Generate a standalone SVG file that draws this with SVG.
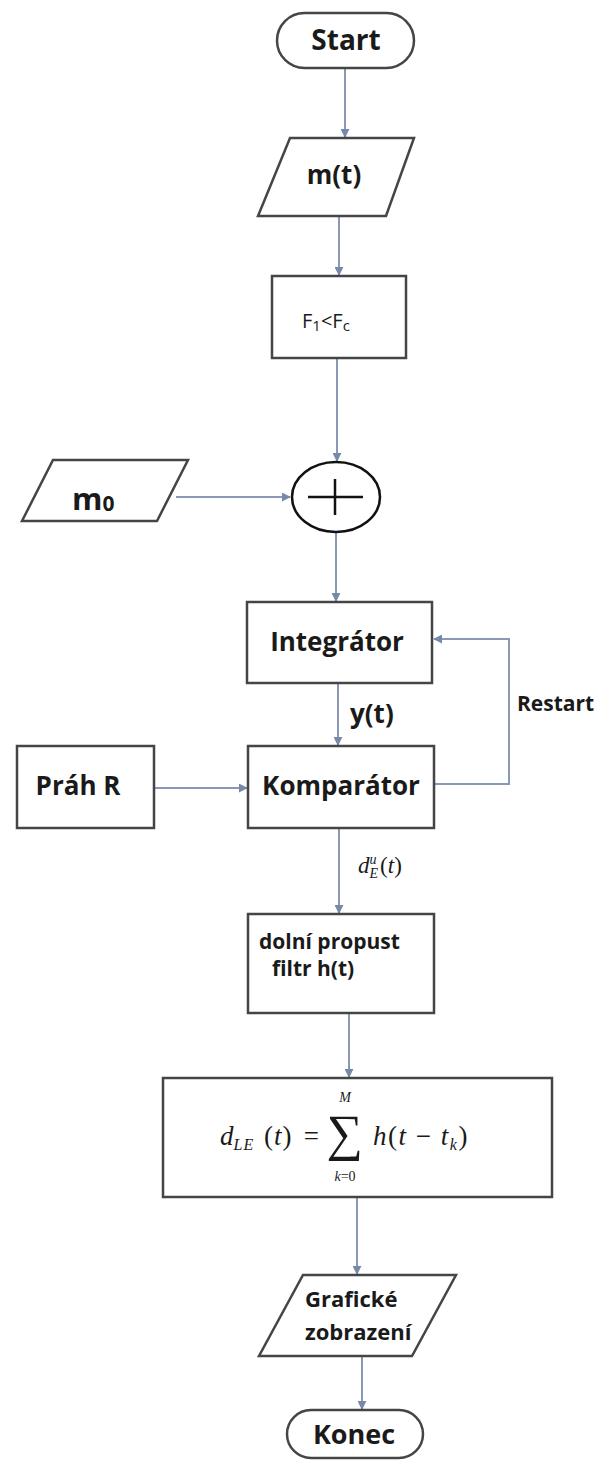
<svg xmlns="http://www.w3.org/2000/svg" width="603" height="1461" viewBox="0 0 603 1461">
<defs>
<marker id="ah" viewBox="0 0 10 10" refX="9" refY="5" markerWidth="4.5" markerHeight="4.5" orient="auto" markerUnits="strokeWidth">
<path d="M0,0 L10,5 L0,10 z" fill="#7689a8"/>
</marker>
<style>
.box{fill:#fff;stroke:#454545;stroke-width:2.5}
.ell{fill:#fff;stroke:#111;stroke-width:2.5}
.con{fill:none;stroke:#8898b5;stroke-width:2;marker-end:url(#ah)}
.lbl{font-family:"Open Sans","Liberation Sans",sans-serif;font-weight:bold;fill:#1a1a1a}
.reg{font-family:"Open Sans","Liberation Sans",sans-serif;fill:#1a1a1a}
.math{font-family:"Liberation Serif","DejaVu Serif",serif;font-style:italic;fill:#1a1a1a}
</style>
</defs>
<rect width="603" height="1461" fill="#fff"/>

<g id="connectors">
<path class="con" d="M345,68 V137"/>
<path class="con" d="M339,216 V275"/>
<path class="con" d="M337,358 V461"/>
<path class="con" d="M176,497 H290"/>
<path class="con" d="M336,532 V601"/>
<path class="con" d="M338,683 V745"/>
<path class="con" d="M155,788 H247"/>
<path class="con" d="M435,784 H509 V639 H434"/>
<path class="con" d="M339,828 V913"/>
<path class="con" d="M349,1013 V1077"/>
<path class="con" d="M357,1197 V1274"/>
<path class="con" d="M362,1356 V1409"/>
</g>

<g id="start">
<rect class="box" x="277" y="13" width="137" height="55" rx="27.5"/>
<text class="lbl" x="346" y="50" font-size="28" text-anchor="middle">Start</text>
</g>

<g id="mt">
<polygon class="box" points="290,138 414,138 386,216 258,216"/>
<text class="lbl" x="334" y="184" font-size="26" text-anchor="middle">m(t)</text>
</g>

<g id="filter1">
<rect class="box" x="272" y="276" width="134" height="82"/>
<text class="reg" x="302" y="328" font-size="20">F<tspan font-size="15" dy="3">1</tspan><tspan dy="-3">&lt;F</tspan><tspan font-size="15" dy="3">c</tspan></text>
</g>

<g id="m0">
<polygon class="box" points="53,460 188,460 157,521 22,521"/>
<text class="lbl" x="72" y="510" font-size="31">m<tspan font-size="21" dy="1">0</tspan></text>
</g>

<g id="sum">
<ellipse class="ell" cx="336" cy="497" rx="44" ry="35"/>
<path d="M308,497 H363 M335,479 V515" stroke="#111" stroke-width="2.5" fill="none"/>
</g>

<g id="integrator">
<rect class="box" x="247" y="602" width="185" height="81"/>
<text class="lbl" x="337" y="651" font-size="26" text-anchor="middle">Integrátor</text>
</g>

<g id="labels">
<text class="lbl" x="350" y="723" font-size="26">y(t)</text>
<text class="lbl" x="517" y="711" font-size="21">Restart</text>
<text class="math" x="358" y="873" font-size="23">d<tspan font-size="14" dy="-9">u</tspan><tspan font-size="14" dx="-7" dy="14">E</tspan><tspan font-style="normal" dy="-5" dx="2">(</tspan><tspan>t</tspan><tspan font-style="normal">)</tspan></text>
</g>

<g id="prah">
<rect class="box" x="17" y="746" width="137" height="82"/>
<text class="lbl" x="78" y="795" font-size="26" text-anchor="middle">Práh R</text>
</g>

<g id="komparator">
<rect class="box" x="248" y="746" width="186" height="82"/>
<text class="lbl" x="341" y="795" font-size="26" text-anchor="middle">Komparátor</text>
</g>

<g id="lowpass">
<rect class="box" x="248" y="914" width="186" height="99"/>
<text class="lbl" x="259" y="949" font-size="21">dolní propust</text>
<text class="lbl" x="272" y="976" font-size="21">filtr h(t)</text>
</g>

<g id="formula">
<rect class="box" x="163" y="1078" width="389" height="119"/>
<text class="math" x="220" y="1145" font-size="27">d<tspan font-size="16" dy="5" letter-spacing="1">LE</tspan></text>
<text class="math" x="264" y="1145" font-size="27" letter-spacing="1"><tspan font-style="normal">(</tspan>t<tspan font-style="normal">)</tspan></text>
<text class="math" x="302" y="1145" font-size="27" font-style="normal">=</text>
<text class="math" x="345" y="1150" font-size="51" font-style="normal" text-anchor="middle">∑</text>
<text class="math" x="345" y="1102" font-size="14" text-anchor="middle">M</text>
<text class="math" x="345" y="1181" font-size="14" text-anchor="middle">k<tspan font-style="normal">=0</tspan></text>
<text class="math" x="373" y="1145" font-size="27" letter-spacing="1.5">h<tspan font-style="normal">(</tspan>t <tspan font-style="normal">−</tspan> t<tspan font-size="16" dy="5">k</tspan><tspan font-style="normal" dy="-5">)</tspan></text>
</g>

<g id="display">
<polygon class="box" points="303,1275 456,1275 412,1356 259,1356"/>
<text class="lbl" x="305" y="1307" font-size="22">Grafické</text>
<text class="lbl" x="305" y="1340" font-size="22">zobrazení</text>
</g>

<g id="end">
<rect class="box" x="287" y="1410" width="136" height="48" rx="24"/>
<text class="lbl" x="354" y="1444" font-size="27" text-anchor="middle">Konec</text>
</g>
</svg>
